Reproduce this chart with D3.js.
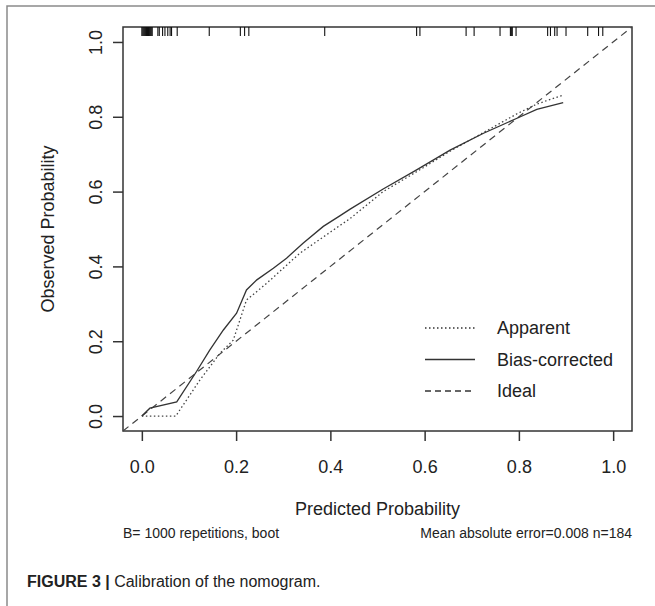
<html>
<head>
<script src="https://cdnjs.cloudflare.com/ajax/libs/d3/7.8.5/d3.min.js"></script>
<style>
  body { margin: 0; background: #fff; }
  text { font-family: "Liberation Sans", Arial, sans-serif; fill: #222; }
</style>
</head>
<body>
<svg width="655" height="606"></svg>
<script>
// calibration curves: [predicted, observed]
const apparent = [[0.0,0.0],[0.072,0.0],[0.123,0.096],[0.166,0.168],[0.194,0.203],[0.222,0.31],
  [0.265,0.355],[0.335,0.435],[0.406,0.497],[0.442,0.528],[0.512,0.600],[0.583,0.653],
  [0.654,0.708],[0.725,0.758],[0.796,0.808],[0.838,0.834],[0.894,0.858]]
const biasCorrected = [[0.0,0.0],[0.017,0.021],[0.074,0.038],[0.116,0.119],[0.144,0.176],[0.173,0.23],
  [0.201,0.275],[0.222,0.337],[0.244,0.364],[0.279,0.395],[0.307,0.422],[0.342,0.462],
  [0.385,0.507],[0.42,0.535],[0.442,0.553],[0.512,0.607],[0.583,0.658],[0.654,0.711],
  [0.725,0.756],[0.796,0.796],[0.838,0.82],[0.894,0.838]]
const ideal = [[-0.04,-0.04],[1.04,1.04]]
// predicted probabilities shown as rug along the top
const rug = [0.0,0.002,0.004,0.006,0.008,0.010,0.012,0.014,0.016,0.018,0.020,0.022,
  0.034,0.037,0.044,0.049,0.055,0.060,0.063,0.075,0.143,0.209,0.218,0.227,0.388,
  0.583,0.590,0.688,0.705,0.760,0.782,0.784,0.786,0.794,0.861,0.867,0.876,0.881,
  0.900,0.946,0.969,0.978]
const xTicks = [0, 0.2, 0.4, 0.6, 0.8, 1.0]
const yTicks = [0, 0.2, 0.4, 0.6, 0.8, 1.0]
const legendLabels = ['Apparent', 'Bias-corrected', 'Ideal']
const legendDash = ['1.5,2.5', null, '6,4']

const svg = d3.select('svg')
const plotLeft = 123, plotRight = 632, plotTop = 27, plotBottom = 431
const x = d3.scaleLinear().domain([-0.04, 1.04]).range([plotLeft, plotRight])
const y = d3.scaleLinear().domain([-0.04, 1.04]).range([plotBottom, plotTop])

// figure frame (left + top)
svg.append('path').attr('d', 'M7,606V6H655').attr('fill', 'none')
  .attr('stroke', '#8a8a8a').attr('stroke-width', 1.5)

const xAxis = svg.append('g').attr('transform', `translate(0,${plotBottom})`)
  .call(d3.axisBottom(x).tickValues(xTicks).tickSize(10).tickFormat(d3.format('.1f')))
xAxis.select('.domain').remove()
xAxis.selectAll('line').attr('stroke', '#333').attr('stroke-width', 1.5)
xAxis.selectAll('text').attr('y', 42).attr('dy', 0).attr('font-size', 18)
  .attr('font-family', '"Liberation Sans", Arial, sans-serif').attr('fill', '#222')

const yAxis = svg.append('g').attr('transform', `translate(${plotLeft},0)`)
  .call(d3.axisLeft(y).tickValues(yTicks).tickSize(10).tickFormat(d3.format('.1f')))
yAxis.select('.domain').remove()
yAxis.selectAll('line').attr('stroke', '#333').attr('stroke-width', 1.5)
yAxis.selectAll('text').attr('x', 0).attr('dy', 0)
  .attr('transform', 'translate(-21,0) rotate(-90)').attr('text-anchor', 'middle')
  .attr('font-size', 18).attr('font-family', '"Liberation Sans", Arial, sans-serif').attr('fill', '#222')

// plot box
svg.append('rect').attr('x', plotLeft).attr('y', plotTop)
  .attr('width', plotRight - plotLeft).attr('height', plotBottom - plotTop)
  .attr('fill', 'none').attr('stroke', '#333').attr('stroke-width', 1.5)

// rug
svg.append('g').selectAll('line').data(rug).enter().append('line')
  .attr('x1', d => x(d)).attr('x2', d => x(d)).attr('y1', plotTop).attr('y2', plotTop + 9)
  .attr('stroke', '#111').attr('stroke-width', 1.1)

const line = d3.line().x(d => x(d[0])).y(d => y(d[1]))
svg.append('path').datum(ideal).attr('d', line).attr('fill', 'none')
  .attr('stroke', '#444').attr('stroke-width', 1.2).attr('stroke-dasharray', '7,5')
svg.append('path').datum(apparent).attr('d', line).attr('fill', 'none')
  .attr('stroke', '#444').attr('stroke-width', 1.3).attr('stroke-dasharray', '1.5,2.5')
svg.append('path').datum(biasCorrected).attr('d', line).attr('fill', 'none')
  .attr('stroke', '#333').attr('stroke-width', 1.3)

// legend
const lg = svg.append('g').selectAll('g').data(legendLabels).enter().append('g')
  .attr('transform', (d, i) => `translate(425,${328 + i * 31.5})`)
lg.append('line').attr('x1', 0).attr('x2', 50).attr('stroke', '#333').attr('stroke-width', 1.3)
  .attr('stroke-dasharray', (d, i) => legendDash[i])
lg.append('text').attr('x', 72).attr('dy', '0.35em').attr('font-size', 18).text(d => d)

// titles
svg.append('text').attr('x', (plotLeft + plotRight) / 2).attr('y', 515).attr('text-anchor', 'middle')
  .attr('font-size', 18).text('Predicted Probability')
svg.append('text').attr('transform', `translate(54,${(plotTop + plotBottom) / 2}) rotate(-90)`)
  .attr('text-anchor', 'middle').attr('font-size', 18).text('Observed Probability')
svg.append('text').attr('x', plotLeft).attr('y', 538).attr('font-size', 14)
  .text('B= 1000 repetitions, boot')
svg.append('text').attr('x', plotRight).attr('y', 538).attr('text-anchor', 'end').attr('font-size', 14)
  .text('Mean absolute error=0.008 n=184')

// caption
const cap = svg.append('text').attr('x', 27).attr('y', 587).attr('font-size', 16)
cap.append('tspan').attr('font-weight', 'bold').text('FIGURE 3 |')
cap.append('tspan').text(' Calibration of the nomogram.')
</script>
</body>
</html>
